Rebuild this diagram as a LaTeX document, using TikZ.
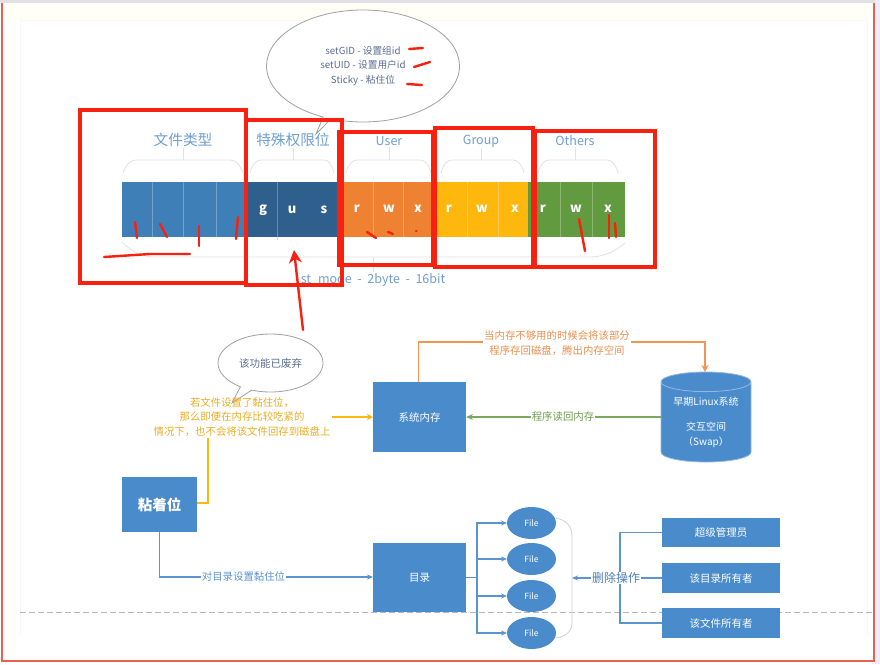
\documentclass[tikz,border=0pt]{standalone}
\usepackage{fontspec}
\setmainfont{Noto Sans CJK SC}
\usetikzlibrary{arrows.meta,shapes.geometric,shapes.callouts}
\definecolor{boxblue}{HTML}{4A8BCB}
\definecolor{lineblue}{HTML}{5B94CF}
\definecolor{barblue}{HTML}{3F7FB8}
\definecolor{bardark}{HTML}{2F5F8C}
\definecolor{barorange}{HTML}{EE8232}
\definecolor{baryellow}{HTML}{FDB70D}
\definecolor{bargreen}{HTML}{629A40}
\definecolor{titleblue}{HTML}{6F9FD3}
\definecolor{bracegray}{HTML}{E2E2E2}
\definecolor{markred}{HTML}{F8200F}
\definecolor{framered}{HTML}{E8604E}
\definecolor{yellowtext}{HTML}{E9AE22}
\definecolor{orangetext}{HTML}{EA8F4E}
\definecolor{greentext}{HTML}{6F9F50}
\definecolor{calltext}{HTML}{5A6C92}
\tikzset{
  x=1pt,y=-1pt,
  barseg/.style={draw=none,minimum height=55pt,inner sep=0pt,outer sep=0pt},
  letter/.style={text=white,font=\bfseries\fontsize{13}{13}\selectfont,inner sep=0pt},
  grouptitle/.style={text=titleblue,font=\fontsize{14.7}{15}\selectfont,inner sep=1pt},
  bracket/.style={draw=bracegray,line width=0.8pt},
  redbox/.style={draw=markred,line width=3.4pt,fill=none},
  scribble/.style={draw=markred,line width=2.4pt,line cap=round},
  bluebox/.style={fill=boxblue,draw=none,text=white,inner sep=0pt,outer sep=0pt,font=\fontsize{10.5}{12}\selectfont},
  fileshape/.style={ellipse,fill=boxblue,draw=none,text=white,minimum width=49pt,minimum height=32pt,inner sep=0pt,outer sep=0pt,font=\fontsize{8.5}{10}\selectfont},
  bubble/.style={ellipse callout,draw=gray!75,fill=white,line width=0.8pt,inner sep=0pt,align=center,text=calltext},
  bluelink/.style={draw=lineblue,line width=1.1pt},
  bluearrow/.style={bluelink,-{Stealth[length=6pt,width=5pt]}},
  linklabel/.style={fill=white,inner sep=1pt,font=\fontsize{10.4}{15.5}\selectfont,align=center},
  hairline/.style={draw=white,draw opacity=0.28,line width=0.6pt}
}
\begin{document}
\begin{tikzpicture}
\useasboundingbox (0,0) rectangle (880,664);
% screen background
\fill[white] (0,0) rectangle (880,664);
\fill[yellow!3] (3,3) rectangle (873,20);
\fill[blue!8!gray!22] (0,0) rectangle (880,3);
\fill[blue!7] (875,0) rectangle (880,664);
\draw[black!3,line width=0.8pt] (20,634) -- (20,20) -- (867,20) -- (867,634);
\draw[black!28,dashed,dash pattern=on 6pt off 3pt,line width=0.8pt] (20,612) -- (872,612);

% permission bar
\node[barseg,fill=barblue,minimum width=125pt] (typeseg) at (184.5,209.5) {};
\node[barseg,fill=bardark,minimum width=90pt] (specialseg) at (292,209.5) {};
\node[barseg,fill=barorange,minimum width=96pt] (userseg) at (385,209.5) {};
\node[barseg,fill=baryellow,minimum width=95pt] (groupseg) at (480.5,209.5) {};
\node[barseg,fill=bargreen,minimum width=97pt] (otherseg) at (576.5,209.5) {};
\draw[hairline] (152,182)--(152,237) (183,182)--(183,237) (216,182)--(216,237)
  (373,182)--(373,237) (403,182)--(403,237) (467,182)--(467,237) (498,182)--(498,237)
  (560,182)--(560,237) (592,182)--(592,237);
\draw[black!30,draw opacity=0.5,line width=0.6pt] (277,182)--(277,240);
\node[letter] (lg) at (263,210) {g};
\node[letter] (lu) at (292,210) {u};
\node[letter] (ls) at (324,210) {s};
\node[letter] (ur) at (357,209) {r};
\node[letter] (uw) at (389,209) {w};
\node[letter] (ux) at (418,209) {x};
\node[letter] (gr) at (449,209) {r};
\node[letter] (gw) at (482,209) {w};
\node[letter] (gx) at (515,209) {x};
\node[letter] (or) at (543,209) {r};
\node[letter] (ow) at (576,209) {w};
\node[letter] (ox) at (608,209) {x};

% group titles and brackets
\node[grouptitle] (ttype) at (183,140) {文件类型};
\node[grouptitle] (tspecial) at (293,140) {特殊权限位};
\node[grouptitle,font=\fontsize{12.5}{14}\selectfont] (tuser) at (389,141) {User};
\node[grouptitle,font=\fontsize{12.5}{14}\selectfont] (tgroup) at (481,141) {Group};
\node[grouptitle,font=\fontsize{12.5}{14}\selectfont] (tother) at (575,141) {Others};
\draw[bracket] (123,173) .. controls (126,165) and (130,160) .. (136,160) -- (230,160) .. controls (236,160) and (240,165) .. (243,173);
\draw[bracket] (250,173) .. controls (252,165) and (256,160) .. (261,160) -- (324,160) .. controls (329,160) and (332,165) .. (334,173);
\draw[bracket] (346,173) .. controls (348,165) and (352,160) .. (357,160) -- (420,160) .. controls (425,160) and (429,165) .. (431,173);
\draw[bracket] (441,173) .. controls (443,165) and (447,160) .. (452,160) -- (513,160) .. controls (518,160) and (522,165) .. (524,173);
\draw[bracket] (538,173) .. controls (540,165) and (544,160) .. (549,160) -- (607,160) .. controls (612,160) and (616,165) .. (618,173);
\coordinate (btype) at (183,160);
\coordinate (bspecial) at (293,160);
\coordinate (buser) at (389,160);
\coordinate (bgroup) at (481,160);
\coordinate (bother) at (575,160);
\draw[bracket] (ttype.south) -- (btype);
\draw[bracket] (tspecial.south) -- (bspecial);
\draw[bracket] (tuser.south) -- (buser);
\draw[bracket] (tgroup.south) -- (bgroup);
\draw[bracket] (tother.south) -- (bother);
\draw[bracket] (122,242) .. controls (130,250) and (140,257) .. (155,257) -- (590,257) .. controls (605,257) and (617,250) .. (625,243);
\coordinate (bmode) at (373,257);
\node[text=titleblue,font=\fontsize{12.5}{14}\selectfont,inner sep=1pt] (tmode) at (373,280) {st\_mode\ \ -\ \ 2byte\ \ -\ \ 16bit};
\draw[bracket] (bmode) -- (tmode.north);

% top callout
\node[bubble,minimum width=193pt,minimum height=112pt,callout absolute pointer={(316,134)},
  callout pointer arc=5,font=\fontsize{9.7}{14.5}\selectfont] (setcall) at (363,66)
  {setGID - 设置组id\\setUID - 设置用户id\\Sticky - 粘住位};

% sticky box and memory
\node[bluebox,minimum width=75pt,minimum height=55pt,font=\bfseries\fontsize{14.5}{16}\selectfont] (sticky) at (159.5,504.5) {粘着位};
\node[bluebox,minimum width=93pt,minimum height=70pt] (memory) at (419.5,417) {系统内存};
\node[bluebox,minimum width=93pt,minimum height=69pt] (dirbox) at (419.5,577.5) {目录};
\node[cylinder,shape border rotate=90,aspect=0.3,minimum height=90pt,minimum width=90pt,anchor=shape center,
  draw=boxblue!60,line width=0.8pt,cylinder uses custom fill,cylinder body fill=boxblue,cylinder end fill=boxblue,
  text=white,align=center,inner sep=0pt,font=\fontsize{10}{15}\selectfont] (swap) at (706,417)
  {早期Linux系统\\[10pt]交互空间\\（Swap）};

% yellow note
\node[bubble,minimum width=105pt,minimum height=58pt,callout absolute pointer={(232,403)},
  callout pointer arc=14,font=\fontsize{10.5}{12}\selectfont] (oldcall) at (270.5,363) {该功能已废弃};
\node[text=yellowtext,font=\fontsize{10.4}{14.6}\selectfont,align=center,inner sep=1pt] (note) at (242,417)
  {若文件设置了黏住位，\\那么即便在内存比较吃紧的\\情况下，也不会将该文件回存到磁盘上};
\coordinate (noteright) at (332,417);
\coordinate (notebelow) at (208,438);
\draw[draw=baryellow,line width=1.5pt] (sticky.east |- 0,503) -| (notebelow);
\draw[draw=baryellow,line width=1.5pt,-{Stealth[length=6pt,width=6pt]}] (noteright) -- (memory.west);

% orange / green links
\coordinate (memtop) at (418.5,382);
\coordinate (swaptop) at (705,372);
\node[linklabel,text=orangetext] (outlabel) at (557,343) {当内存不够用的时候会将该部分\\程序存回磁盘，腾出内存空间};
\draw[draw=barorange!85,line width=1.3pt] (memtop) |- (outlabel.west |- 0,342);
\draw[draw=barorange!85,line width=1.3pt,-{Stealth[length=7pt,width=7pt]}] (outlabel.east |- 0,342) -| (swaptop);
\node[linklabel,text=greentext] (backlabel) at (563,417) {程序读回内存};
\draw[draw=bargreen!85,line width=1.3pt] (swap.west |- 0,417) -- (backlabel.east);
\draw[draw=bargreen!85,line width=1.3pt,-{Stealth[length=7pt,width=6pt]}] (backlabel.west) -- (memory.east);

% sticky to directory
\node[linklabel,text=lineblue] (dirlabel) at (243.5,577) {对目录设置黏住位};
\draw[bluelink] (sticky.south) |- (dirlabel.west);
\draw[bluearrow] (dirlabel.east) -- (dirbox.west |- dirlabel);

% files
\node[fileshape] (f1) at (531.5,523) {File};
\node[fileshape] (f2) at (531.5,559) {File};
\node[fileshape] (f3) at (531.5,596) {File};
\node[fileshape] (f4) at (531.5,633) {File};
\coordinate (trunk) at (477,577.5);
\draw[bluelink] (dirbox.east) -- (trunk);
\draw[bluearrow] (trunk) |- (f1.west);
\draw[bluearrow] (trunk) |- (f2.west);
\draw[bluearrow] (trunk) |- (f3.west);
\draw[bluearrow] (trunk) |- (f4.west);
\draw[bracket,draw=black!18] (556,518) .. controls (566,520) and (572,526) .. (572,536) -- (572,622) .. controls (572,632) and (566,636) .. (556,638);
\coordinate (bracetip) at (572,578);

% delete operation
\node[bluebox,minimum width=118pt,minimum height=29pt] (root) at (721,532.5) {超级管理员};
\node[bluebox,minimum width=118pt,minimum height=30pt] (dirowner) at (721,578) {该目录所有者};
\node[bluebox,minimum width=118pt,minimum height=30pt] (fileowner) at (721,623) {该文件所有者};
\coordinate (deltrunk) at (620,578);
\draw[bluelink] (root.west) -| (deltrunk);
\draw[bluelink] (fileowner.west) -| (deltrunk);
\node[fill=white,inner sep=0.5pt,text=lineblue!85!black,font=\fontsize{12}{14}\selectfont] (dellabel) at (616,578) {删除操作};
\draw[bluelink] (dirowner.west) -- (dellabel.east);
\draw[bluearrow] (dellabel.west) -- (bracetip);

% outer red frame
\draw[framered,line width=2.2pt] (2,3) -- (2,661) -- (874,661) -- (874,3);

% red annotation boxes
\draw[redbox] (80,110) rectangle (246,283);
\draw[redbox] (246,120) rectangle (342,285);
\draw[redbox] (339,132) rectangle (433,265);
\draw[redbox] (435,128) rectangle (533,267);
\draw[redbox] (535,131) rectangle (655,267);
% red scribbles
\draw[scribble] (409,49) -- (423,48);
\draw[scribble] (414,67) -- (430,62);
\draw[scribble] (407,84) -- (422,85);
\draw[scribble] (135,222) -- (137,238);
\draw[scribble] (160,224) -- (167,237);
\draw[scribble] (199,226) -- (199,246);
\draw[scribble] (238,217) -- (236,239);
\draw[scribble] (104,257) -- (150,254) -- (190,254);
\draw[scribble] (367,232) -- (376,238);
\draw[scribble] (388,232) -- (393,234);
\draw[scribble] (416,231) -- (416.5,231);
\draw[scribble] (579,219) -- (585,251);
\draw[scribble] (609,215) -- (609,238);
\draw[scribble] (615,223) -- (616,237);
\draw[scribble,-{Stealth[length=13pt,width=13pt]}] (303,330) -- (294,250);
\end{tikzpicture}
\end{document}
